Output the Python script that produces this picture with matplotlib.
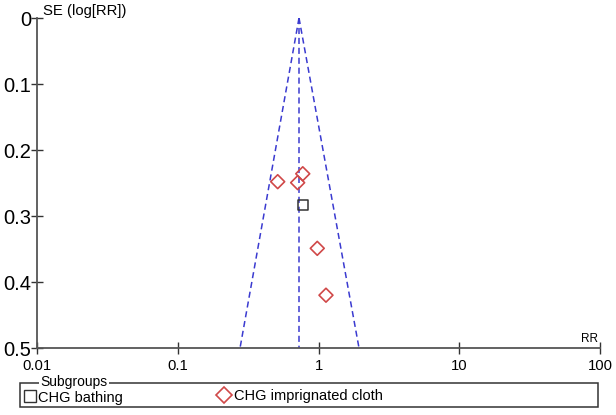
import matplotlib
matplotlib.use("Agg")
import matplotlib.pyplot as plt
from matplotlib.patches import Rectangle
from matplotlib.lines import Line2D

plt.rcParams["font.family"] = ["Liberation Sans", "DejaVu Sans"]

# study estimates
bath_rr = [0.78]
bath_se = [0.283]
cloth_rr = [0.513, 0.711, 0.773, 0.98, 1.13]
cloth_se = [0.248, 0.2495, 0.236, 0.349, 0.42]

# pooled estimate and funnel limits (apex at SE 0, base at SE 0.5)
pooled_rr = 0.727
funnel_se = [0.0, 0.5]
funnel_lo = [0.727, 0.277]
funnel_hi = [0.727, 1.94]

x_ticks = [0.01, 0.1, 1, 10, 100]
x_labels = ["0.01", "0.1", "1", "10", "100"]
y_ticks = [0, 0.1, 0.2, 0.3, 0.4, 0.5]
y_labels = ["0", "0.1", "0.2", "0.3", "0.4", "0.5"]
groups = ["CHG bathing", "CHG imprignated cloth"]

blue = "#3a3ad0"
red = "#d04848"
grey = "#555555"

fig = plt.figure(figsize=(6.16, 4.15), dpi=100)
ax = fig.add_axes([37 / 616, 1 - 348 / 415, 563 / 616, 330 / 415])

dash = (4, 2.5)
ax.plot(funnel_lo, funnel_se, color=blue, linestyle="--", dashes=dash, linewidth=1.1)
ax.plot(funnel_hi, funnel_se, color=blue, linestyle="--", dashes=dash, linewidth=1.1)
ax.plot([pooled_rr, pooled_rr], funnel_se, color=blue, linestyle="--",
        dashes=dash, linewidth=1.1)

ax.scatter(cloth_rr, cloth_se, marker="D", s=50, facecolors="none",
           edgecolors=red, linewidths=1.2, zorder=3)
ax.scatter(bath_rr, bath_se, marker="s", s=50, facecolors="none",
           edgecolors="#333333", linewidths=1.1, zorder=3)

ax.set_xscale("log")
ax.set_xlim(0.01, 100)
ax.set_ylim(0.5, 0)
ax.set_xticks(x_ticks)
ax.set_xticklabels(x_labels, fontsize=10.7)
ax.set_yticks(y_ticks)
ax.set_yticklabels(y_labels, fontsize=14.5)
ax.minorticks_off()
ax.tick_params(direction="inout", length=8, width=1, color="#333333")
ax.tick_params(axis="x", pad=4)
ax.tick_params(axis="y", pad=0)
for s in ["top", "right"]:
    ax.spines[s].set_visible(False)
for s in ["left", "bottom"]:
    ax.spines[s].set_color(grey)
    ax.spines[s].set_linewidth(1.3)

fig.text(43 / 616, 1 - 11 / 415, "SE (log[RR])", fontsize=10.7, va="center")
fig.text(598 / 616, 1 - 339 / 415, "RR", fontsize=8.5, ha="right", va="center")

# subgroup legend box
fig.add_artist(Rectangle((20 / 616, 1 - 407 / 415), 578 / 616, 24 / 415,
                         transform=fig.transFigure, fill=False,
                         edgecolor="#333333", linewidth=1.1))
fig.text(40 / 616, 1 - 382 / 415, "Subgroups", fontsize=10, va="center",
         bbox=dict(facecolor="white", edgecolor="none", pad=1))
fig.add_artist(Line2D([30 / 616], [1 - 396 / 415], marker="s", markersize=8,
                      markerfacecolor="none", markeredgecolor="#333333",
                      transform=fig.transFigure))
fig.text(38 / 616, 1 - 398 / 415, groups[0], fontsize=10.5, va="center")
fig.add_artist(Line2D([224 / 616], [1 - 395 / 415], marker="D", markersize=8,
                      markerfacecolor="none", markeredgecolor=red,
                      markeredgewidth=1.2, transform=fig.transFigure))
fig.text(234 / 616, 1 - 396 / 415, groups[1], fontsize=10.5, va="center")

fig.savefig("out.png", dpi=100)
